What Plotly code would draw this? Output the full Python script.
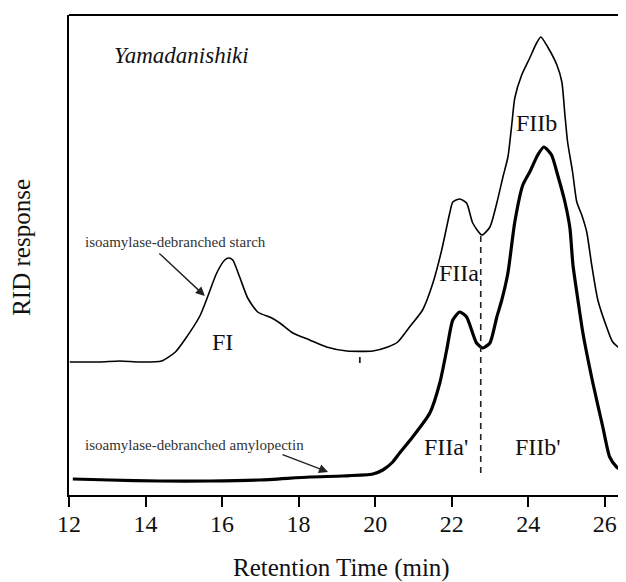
import plotly.graph_objects as go

# ---- data ----
starch_time = [12.02, 12.80, 13.33, 13.85, 14.42, 14.78, 15.02, 15.42, 15.62, 15.86, 16.07, 16.17,
               16.28, 16.46, 16.67, 16.93, 17.30, 17.51, 17.85, 18.29, 18.73, 19.26, 19.94, 20.33, 20.59,
               20.90, 21.24, 21.51, 21.74, 21.95, 22.03, 22.21, 22.39, 22.55, 22.79, 23.00, 23.18, 23.34,
               23.47, 23.57, 23.65, 23.83, 24.04, 24.22, 24.33, 24.51, 24.75, 24.88, 24.96, 25.03, 25.16,
               25.27, 25.40, 25.53, 25.66, 25.82, 26.05, 26.21, 26.55]
starch_resp = [133, 133, 134, 133, 134, 143, 155, 179, 198, 222, 235, 237,
               235, 218, 197, 183, 177, 172, 162, 155, 148, 144, 144, 148, 153,
               168, 185, 212, 245, 282, 293, 296, 292, 272, 260, 268, 292, 318,
               338, 370, 397, 420, 437, 452, 458, 448, 430, 413, 380, 353, 323,
               293, 280, 263, 230, 195, 168, 153, 142]

amylo_time = [12.10, 13.06, 14.37, 15.68, 16.98, 18.29, 19.15, 19.94, 20.20, 20.46, 20.64, 20.98, 21.43,
              21.69, 21.87, 22.03, 22.21, 22.39, 22.65, 22.81, 23.00, 23.18, 23.31, 23.47, 23.65, 23.86,
              24.04, 24.25, 24.41, 24.61, 24.77, 24.96, 25.09, 25.17, 25.30, 25.43, 25.69, 25.95, 26.13,
              26.31, 26.55]
amylo_resp = [16, 15, 14, 14, 15, 18, 19, 21, 25, 33, 42, 58, 82,
              112, 145, 175, 183, 178, 152, 147, 152, 178, 195, 222, 273, 310,
              323, 340, 348, 340, 320, 293, 267, 230, 195, 162, 112, 68, 38,
              28, 22]

divider_time = 22.76
divider_resp = [22, 260]
mark_time = 19.6
mark_resp = [132, 138]

x_ticks = [12, 14, 16, 18, 20, 22, 24, 26]

peak_labels = ["FI", "FIIa", "FIIb", "FIIa'", "FIIb'"]
peak_label_x = [16.02, 22.18, 24.22, 21.85, 24.26]
peak_label_y = [153, 222, 372, 48, 48]

FONT = "Liberation Serif"

fig = go.Figure()

fig.add_trace(go.Scatter(x=starch_time, y=starch_resp, mode="lines",
                         line=dict(color="black", width=1.6, shape="spline", smoothing=0.6),
                         showlegend=False, hoverinfo="skip"))
fig.add_trace(go.Scatter(x=amylo_time, y=amylo_resp, mode="lines",
                         line=dict(color="black", width=3.2, shape="spline", smoothing=0.6),
                         showlegend=False, hoverinfo="skip"))
fig.add_trace(go.Scatter(x=[divider_time, divider_time], y=divider_resp, mode="lines",
                         line=dict(color="#222", width=1.6, dash="6px,5px"),
                         showlegend=False, hoverinfo="skip"))
fig.add_trace(go.Scatter(x=[mark_time, mark_time], y=mark_resp, mode="lines",
                         line=dict(color="#222", width=1.8),
                         showlegend=False, hoverinfo="skip"))

for t, xx, yy in zip(peak_labels, peak_label_x, peak_label_y):
    fig.add_annotation(x=xx, y=yy, text=t, showarrow=False,
                       font=dict(family=FONT, size=24, color="#111"))

fig.add_annotation(x=12.36, y=253, text="isoamylase-debranched starch", showarrow=False,
                   xanchor="left", font=dict(family=FONT, size=15, color="#333"))
fig.add_annotation(x=15.55, y=199, ax=-47, ay=-44, text="", showarrow=True,
                   arrowhead=2, arrowsize=1.3, arrowwidth=1.4, arrowcolor="#222")
fig.add_annotation(x=12.37, y=50, text="isoamylase-debranched amylopectin", showarrow=False,
                   xanchor="left", font=dict(family=FONT, size=15, color="#333"))
fig.add_annotation(x=18.77, y=23, ax=-47, ay=-18, text="", showarrow=True,
                   arrowhead=2, arrowsize=1.3, arrowwidth=1.4, arrowcolor="#222")
fig.add_annotation(x=13.12, y=440, text="<i>Yamadanishiki</i>", showarrow=False,
                   xanchor="left", font=dict(family=FONT, size=23, color="#111"))

# plot area: 556 x 480 px
fig.add_annotation(xref="paper", yref="paper", x=-47 / 556, y=0.515, text="RID response",
                   textangle=-90, showarrow=False, xanchor="center", yanchor="middle",
                   font=dict(family=FONT, size=25, color="#111"))
fig.add_annotation(xref="paper", yref="paper", x=0.491, y=-73 / 480, text="Retention Time (min)",
                   showarrow=False, xanchor="center", yanchor="middle",
                   font=dict(family=FONT, size=25, color="#111"))

# faint right border
fig.add_shape(type="line", xref="paper", yref="paper", x0=1, x1=1, y0=0, y1=1,
              line=dict(color="#bbb", width=1))

fig.update_xaxes(range=[12, 26.53], tickvals=x_ticks, ticks="outside", ticklen=10, tickwidth=1.5,
                 tickcolor="black", showline=True, linecolor="black", linewidth=2,
                 showgrid=False, zeroline=False, ticklabelstandoff=-4,
                 tickfont=dict(family=FONT, size=24, color="#111"))
fig.update_yaxes(range=[0, 480], showticklabels=False, ticks="", showline=True, linecolor="black",
                 linewidth=2, showgrid=False, zeroline=False)

# top border
fig.add_shape(type="line", xref="paper", yref="paper", x0=0, x1=1, y0=1, y1=1,
              line=dict(color="black", width=2))

# page body has an 8px default margin, so the figure is 8px smaller than the window
fig.update_layout(width=618, height=574, margin=dict(l=61, r=1, t=7, b=87),
                  paper_bgcolor="white", plot_bgcolor="white")

fig.write_html("out.html")
